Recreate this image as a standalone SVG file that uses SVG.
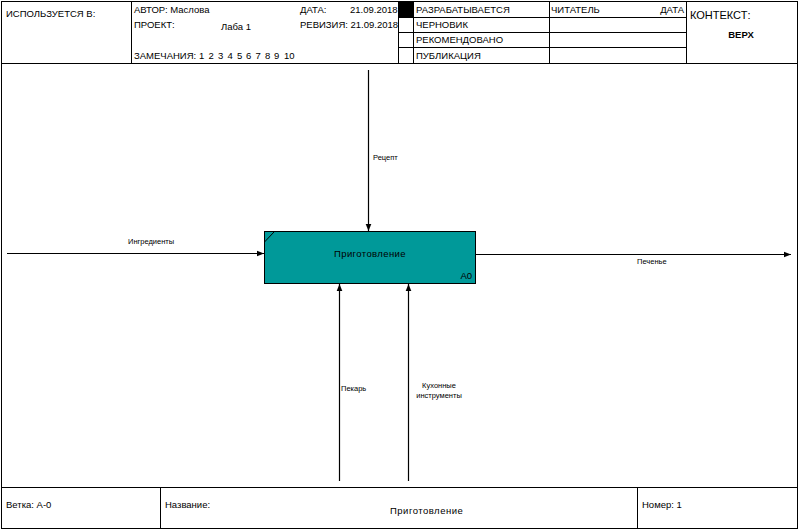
<svg xmlns="http://www.w3.org/2000/svg" width="799" height="530" viewBox="0 0 799 530">
<defs>
<style>
.ln{stroke:#000;stroke-width:1;fill:none}
.t{font-family:"Liberation Sans",Arial,sans-serif;font-size:9.5px;fill:#000}
.s{font-family:"Liberation Sans",Arial,sans-serif;font-size:7.5px;fill:#000}
.c{stroke:#000;stroke-width:1.2;fill:none}
</style>
<marker id="ah" viewBox="0 0 10 10" refX="10" refY="5" markerWidth="9" markerHeight="7" markerUnits="userSpaceOnUse" orient="auto">
<path d="M0,1 L10,5 L0,9 Z" fill="#000"/>
</marker>
</defs>
<rect width="799" height="530" fill="#fff"/>
<g id="frame">
<rect x="1.5" y="1.5" width="796" height="527" class="ln"/>
<line x1="1.5" y1="63.5" x2="797.5" y2="63.5" class="ln"/>
<line x1="131.5" y1="1.5" x2="131.5" y2="63.5" class="ln"/>
<line x1="413.5" y1="1.5" x2="413.5" y2="63.5" class="ln"/>
<line x1="549.5" y1="1.5" x2="549.5" y2="63.5" class="ln"/>
<line x1="686.5" y1="1.5" x2="686.5" y2="63.5" class="ln"/>
<line x1="398.5" y1="1.5" x2="398.5" y2="63.5" class="ln"/>
<line x1="398.5" y1="17.5" x2="686.5" y2="17.5" class="ln"/>
<line x1="398.5" y1="32.5" x2="686.5" y2="32.5" class="ln"/>
<line x1="398.5" y1="47.5" x2="686.5" y2="47.5" class="ln"/>
<rect x="399" y="2" width="14" height="15" fill="#000"/>
<text x="6" y="17" class="t">ИСПОЛЬЗУЕТСЯ В:</text>
<text x="134" y="13" class="t">АВТОР: Маслова</text>
<text x="300" y="13" class="t">ДАТА:</text>
<text x="350" y="13" class="t">21.09.2018</text>
<text x="134" y="28" class="t">ПРОЕКТ:</text>
<text x="221" y="30" class="t">Лаба 1</text>
<text x="300" y="28" class="t">РЕВИЗИЯ: 21.09.2018</text>
<text x="134" y="59" class="t">ЗАМЕЧАНИЯ:<tspan x="199">1</tspan><tspan x="208.5">2</tspan><tspan x="218">3</tspan><tspan x="227.5">4</tspan><tspan x="237">5</tspan><tspan x="246">6</tspan><tspan x="255.5">7</tspan><tspan x="265">8</tspan><tspan x="274">9</tspan><tspan x="284">10</tspan></text>
<text x="416" y="13" class="t">РАЗРАБАТЫВАЕТСЯ</text>
<text x="416" y="28" class="t">ЧЕРНОВИК</text>
<text x="416" y="43" class="t">РЕКОМЕНДОВАНО</text>
<text x="416" y="59" class="t">ПУБЛИКАЦИЯ</text>
<text x="551" y="13" class="t">ЧИТАТЕЛЬ</text>
<text x="684" y="13" class="t" text-anchor="end">ДАТА</text>
<text x="690" y="19" class="t" style="font-size:11px">КОНТЕКСТ:</text>
<text x="741" y="38" class="t" font-weight="bold" text-anchor="middle">ВЕРХ</text>
<line x1="1.5" y1="487.5" x2="797.5" y2="487.5" class="ln"/>
<line x1="160.5" y1="487.5" x2="160.5" y2="528.5" class="ln"/>
<line x1="637.5" y1="487.5" x2="637.5" y2="528.5" class="ln"/>
<text x="6" y="508" class="t">Ветка:  А-0</text>
<text x="165" y="508" class="t">Название:</text>
<text x="390" y="514" class="t" style="letter-spacing:0.5px">Приготовление</text>
<text x="642" y="508" class="t">Номер: 1</text>
</g>
<g id="node-A0">
<rect x="264.5" y="231.5" width="211" height="52" fill="#009999" stroke="#000" stroke-width="1"/>
<line x1="264.5" y1="242" x2="274" y2="232" class="ln"/>
<text x="370" y="257" class="t" text-anchor="middle" style="letter-spacing:0.4px">Приготовление</text>
<text x="472" y="279" class="t" text-anchor="end">А0</text>
</g>
<g id="connectors">
<line x1="368.5" y1="70" x2="368.5" y2="231" class="c" marker-end="url(#ah)"/>
<line x1="7" y1="253.5" x2="264" y2="253.5" class="c" marker-end="url(#ah)"/>
<line x1="476" y1="254.5" x2="791" y2="254.5" class="c" marker-end="url(#ah)"/>
<line x1="339.5" y1="481" x2="339.5" y2="284" class="c" marker-end="url(#ah)"/>
<line x1="408.5" y1="481" x2="408.5" y2="284" class="c" marker-end="url(#ah)"/>
<text x="373" y="160" class="s">Рецепт</text>
<text x="128" y="244" class="s">Ингредиенты</text>
<text x="637" y="264" class="s">Печенье</text>
<text x="341" y="391" class="s">Пекарь</text>
<text x="439" y="388" class="s" text-anchor="middle">Кухонные</text>
<text x="439" y="398" class="s" text-anchor="middle">инструменты</text>
</g>
</svg>
